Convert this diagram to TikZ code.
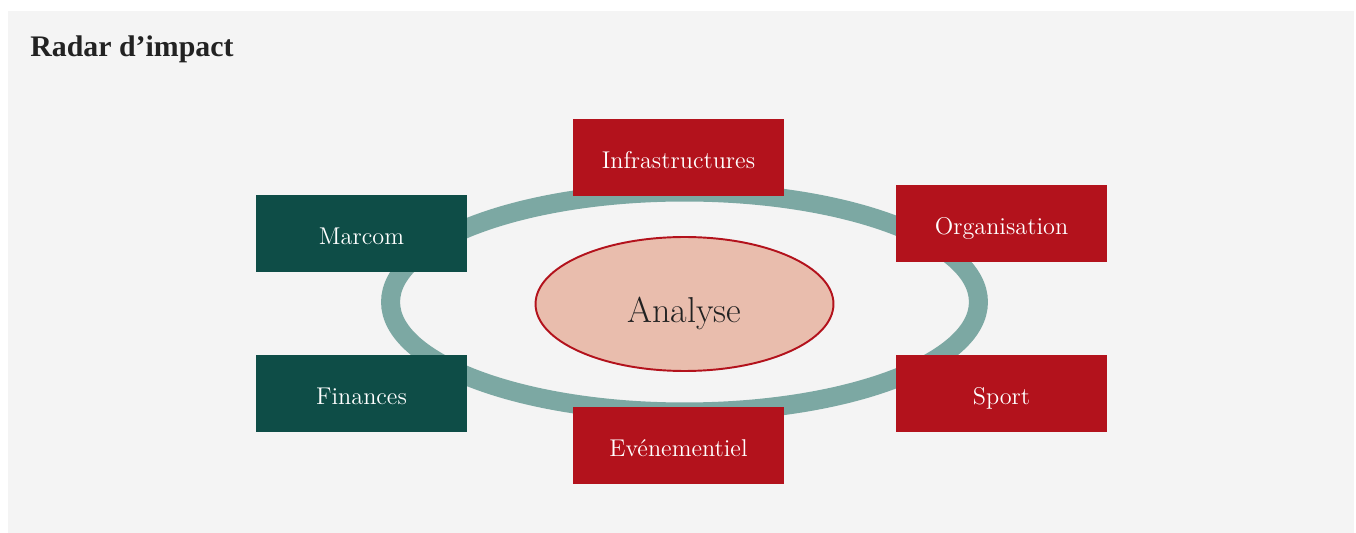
\documentclass[tikz,border=0pt]{standalone}
\usepackage{fontspec}
\newfontfamily\titlefont{Liberation Serif}
\usetikzlibrary{shapes.geometric}
\definecolor{bgrey}{HTML}{F4F4F4}
\definecolor{rred}{HTML}{B3121C}
\definecolor{rgreen}{HTML}{0E4D47}
\definecolor{rring}{HTML}{7CA8A3}
\definecolor{rrose}{HTML}{E9BDAD}
\definecolor{rink}{HTML}{222222}
\begin{document}
\begin{tikzpicture}[x=0.02cm, y=-0.02cm,
      area/.style={minimum width=4.22cm, minimum height=1.54cm, inner sep=0pt, text=white,
         text height=12pt, text depth=0pt, font=\fontsize{13.8}{15}\selectfont},
      redarea/.style={area, fill=rred},
      greenarea/.style={area, fill=rgreen}]
   \useasboundingbox (0,0) rectangle (1356,533);
   \fill[bgrey] (8,11) rectangle (1354,533);
   \node[anchor=base west, inner sep=0pt, text=rink, font=\titlefont\bfseries\fontsize{17}{20}\selectfont] (title) at (30,57) {Radar d’impact};
   \coordinate (c) at (684.5,302);
   \draw[rring, line width=0.38cm] (c) ellipse [x radius=5.88cm, y radius=2.2cm];
   \node[ellipse, draw=rred, line width=1.1pt, fill=rrose, minimum width=5.96cm, minimum height=2.68cm, inner sep=0pt,
      text=rink, text height=20.5pt, text depth=0pt, font=\fontsize{20.5}{22}\selectfont] (A) at (684.5,304) {Analyse};
   \node[redarea] (I) at (678.5,157.5) {Infrastructures};
   \node[redarea] (O) at (1001.5,223.5) {Organisation};
   \node[redarea] (S) at (1001.5,393.5) {Sport};
   \node[redarea] (E) at (678.5,445.5) {Evénementiel};
   \node[greenarea] (M) at (361.5,233.5) {Marcom};
   \node[greenarea] (F) at (361.5,393.5) {Finances};
\end{tikzpicture}
\end{document}
